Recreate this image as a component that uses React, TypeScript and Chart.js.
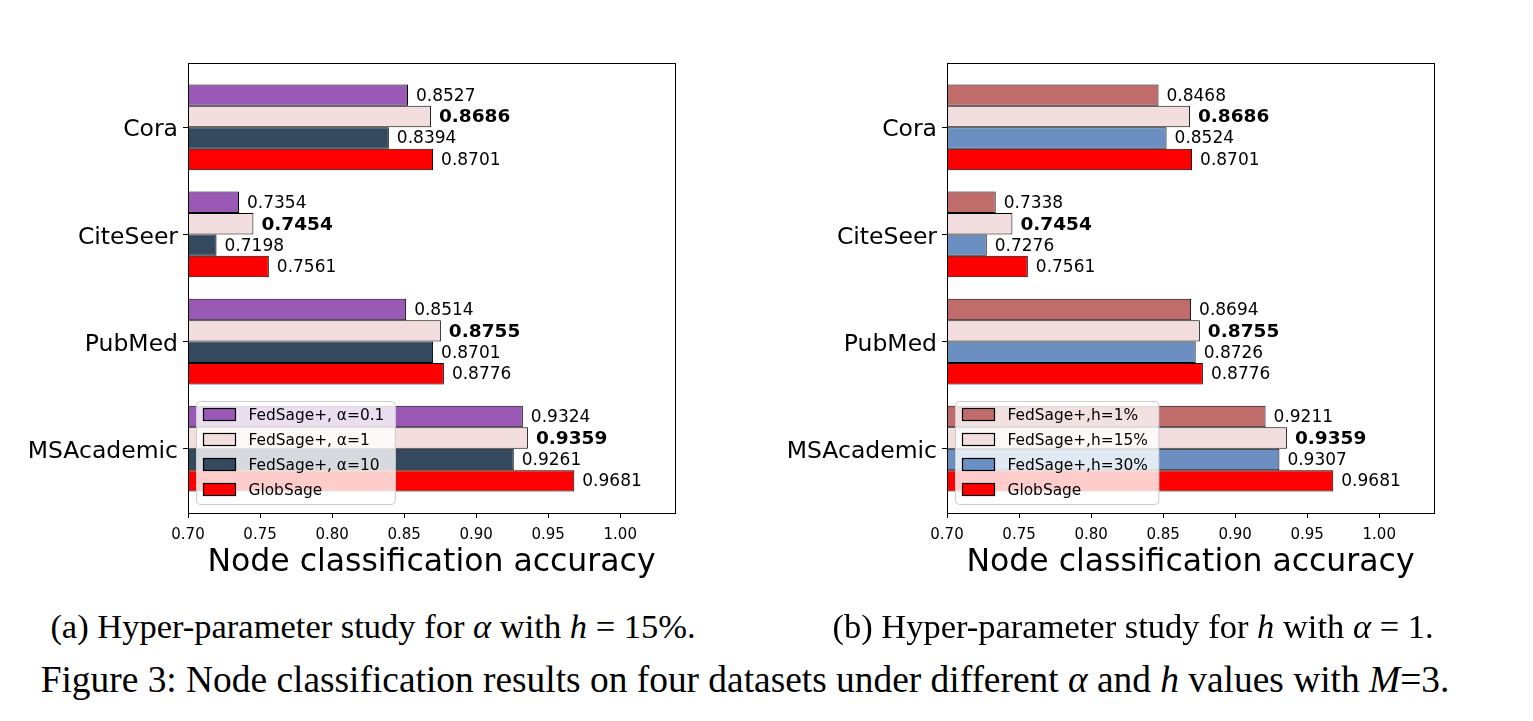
import React, { useEffect, useRef } from "react";
import { Chart, registerables } from "chart.js";

Chart.register(...registerables);

const categories = ["Cora", "CiteSeer", "PubMed", "MSAcademic"];
const xTickValues = [0.7, 0.75, 0.8, 0.85, 0.9, 0.95, 1.0];
const xMin = 0.7;
const xMax = 1.038;
const xTitle = "Node classification accuracy";

const alphaLabels = ["FedSage+, α=0.1", "FedSage+, α=1", "FedSage+, α=10", "GlobSage"];
const alpha01 = [0.8527, 0.7354, 0.8514, 0.9324];
const alpha1 = [0.8686, 0.7454, 0.8755, 0.9359];
const alpha10 = [0.8394, 0.7198, 0.8701, 0.9261];
const globSage = [0.8701, 0.7561, 0.8776, 0.9681];
const alphaColors = ["#9b59b6", "#f2dede", "#34495e", "#ff0000"];

const hLabels = ["FedSage+,h=1%", "FedSage+,h=15%", "FedSage+,h=30%", "GlobSage"];
const h1 = [0.8468, 0.7338, 0.8694, 0.9211];
const h15 = [0.8686, 0.7454, 0.8755, 0.9359];
const h30 = [0.8524, 0.7276, 0.8726, 0.9307];
const hColors = ["#c06c6b", "#f2dede", "#6a8fc0", "#ff0000"];

const FONT = "'DejaVu Sans', sans-serif";

const valueLabelPlugin = {
  id: "valueLabels",
  afterDatasetsDraw(chart: any) {
    const ctx = chart.ctx;
    ctx.save();
    chart.data.datasets.forEach((ds: any, di: number) => {
      const meta = chart.getDatasetMeta(di);
      meta.data.forEach((bar: any, i: number) => {
        const v = ds.data[i].x;
        ctx.font = di === 1 ? "bold 18.5px " + FONT : "17px " + FONT;
        ctx.fillStyle = "#000";
        ctx.textAlign = "left";
        ctx.textBaseline = "middle";
        ctx.fillText(v.toFixed(4), bar.x + 8, bar.y + 1);
      });
    });
    ctx.restore();
  },
};

const frameLegendPlugin = {
  id: "frameLegend",
  afterDraw(chart: any) {
    const ctx = chart.ctx;
    const a = chart.chartArea;
    ctx.save();
    const labels = chart.data.datasets.map((d: any) => d.label);
    const LF = "15.4px " + FONT;
    ctx.font = LF;
    const maxW = Math.max(...labels.map((l: string) => ctx.measureText(l).width));
    const bx = a.left + 8.5;
    const bh = 103;
    const by = a.bottom - 8.5 - bh;
    const bw = 7 + 32 + 13 + maxW + 11;
    ctx.beginPath();
    const r = 4;
    ctx.moveTo(bx + r, by);
    ctx.arcTo(bx + bw, by, bx + bw, by + bh, r);
    ctx.arcTo(bx + bw, by + bh, bx, by + bh, r);
    ctx.arcTo(bx, by + bh, bx, by, r);
    ctx.arcTo(bx, by, bx + bw, by, r);
    ctx.closePath();
    ctx.fillStyle = "rgba(255,255,255,0.8)";
    ctx.fill();
    ctx.strokeStyle = "#cccccc";
    ctx.lineWidth = 1;
    ctx.stroke();
    chart.data.datasets.forEach((d: any, i: number) => {
      const cy = by + 13 + i * 25;
      ctx.fillStyle = d.backgroundColor;
      ctx.fillRect(bx + 7, cy - 6, 32, 12);
      ctx.strokeStyle = "#000";
      ctx.lineWidth = 1.2;
      ctx.strokeRect(bx + 7, cy - 6, 32, 12);
      ctx.fillStyle = "#000";
      ctx.textAlign = "left";
      ctx.textBaseline = "middle";
      ctx.font = LF;
      ctx.fillText(d.label, bx + 52, cy + 1);
    });
    ctx.strokeStyle = "#000";
    ctx.lineWidth = 1;
    ctx.strokeRect(Math.round(a.left) + 0.5, Math.round(a.top) + 0.5, Math.round(a.right - a.left), Math.round(a.bottom - a.top));
    ctx.restore();
  },
};

function BarPanel({ labels, series, colors, left }: { labels: string[]; series: number[][]; colors: string[]; left: number }) {
  const ref = useRef<HTMLCanvasElement>(null);
  useEffect(() => {
    if (!ref.current) return;
    const chart = new Chart(ref.current, {
      type: "bar",
      data: {
        datasets: series.map((vals, si) => ({
          label: labels[si],
          data: vals.map((v, i) => ({ x: v, y: i })),
          backgroundColor: colors[si],
          borderColor: "#000",
          borderWidth: 1,
          borderSkipped: false,
          barPercentage: 1,
          categoryPercentage: 0.8,
        })),
      },
      options: {
        indexAxis: "y",
        animation: false,
        responsive: false,
        maintainAspectRatio: false,
        layout: { padding: { top: 63, right: 85, left: 0, bottom: 18 } },
        plugins: { legend: { display: false }, tooltip: { enabled: false } },
        scales: {
          x: {
            type: "linear",
            min: xMin,
            max: xMax,
            afterBuildTicks: (s: any) => {
              s.ticks = xTickValues.map((v) => ({ value: v }));
            },
            afterFit: (s: any) => {
              s.height = 69;
            },
            ticks: {
              callback: (v: any) => Number(v).toFixed(2),
              font: { family: FONT, size: 15 },
              color: "#000",
              padding: 8,
              maxRotation: 0,
              autoSkip: false,
            },
            grid: { drawOnChartArea: false, tickLength: 5, color: "#000", offset: false },
            border: { color: "#000" },
            title: {
              display: true,
              text: xTitle,
              font: { family: FONT, size: 31.5 },
              color: "#000",
              padding: { top: 0, bottom: 0 },
            },
          },
          y: {
            type: "linear",
            min: -0.6,
            max: 3.6,
            reverse: true,
            offset: false,
            afterBuildTicks: (s: any) => {
              s.ticks = categories.map((_, i) => ({ value: i }));
            },
            afterFit: (s: any) => {
              s.width = 188;
            },
            ticks: {
              callback: (v: any) => categories[v] ?? "",
              font: { family: FONT, size: 23.5 },
              color: "#000",
              padding: 5,
              labelOffset: 3,
              autoSkip: false,
            },
            grid: { drawOnChartArea: false, tickLength: 5, color: "#000", offset: false },
            border: { color: "#000" },
          },
        },
      } as any,
      plugins: [valueLabelPlugin, frameLegendPlugin],
    });
    return () => chart.destroy();
  }, []);
  return (
    <div style={{ position: "absolute", left, top: 0, width: 760, height: 600 }}>
      <canvas ref={ref} width={760} height={600} style={{ width: 760, height: 600 }} />
    </div>
  );
}

const serif = "'Liberation Serif', 'Times New Roman', serif";

export default function App() {
  return (
    <div style={{ position: "absolute", left: 0, top: 0, width: 1533, height: 721, background: "#fff" }}>
      <BarPanel labels={alphaLabels} series={[alpha01, alpha1, alpha10, globSage]} colors={alphaColors} left={0} />
      <BarPanel labels={hLabels} series={[h1, h15, h30, globSage]} colors={hColors} left={759} />
      <div style={{ position: "absolute", left: 0, width: 746, top: 606, textAlign: "center", fontFamily: serif, fontSize: 34.5, lineHeight: "40px", whiteSpace: "nowrap" }}>
        (a) Hyper-parameter study for <i>α</i> with <i>h</i> = 15%.
      </div>
      <div style={{ position: "absolute", left: 760, width: 746, top: 606, textAlign: "center", fontFamily: serif, fontSize: 34.5, lineHeight: "40px", whiteSpace: "nowrap" }}>
        (b) Hyper-parameter study for <i>h</i> with <i>α</i> = 1.
      </div>
      <div style={{ position: "absolute", left: 0, width: 1490, top: 659, textAlign: "center", fontFamily: serif, fontSize: 37.4, lineHeight: "42px", whiteSpace: "nowrap" }}>
        Figure 3: Node classification results on four datasets under different <i>α</i> and <i>h</i> values with <i>M</i>=3.
      </div>
    </div>
  );
}
